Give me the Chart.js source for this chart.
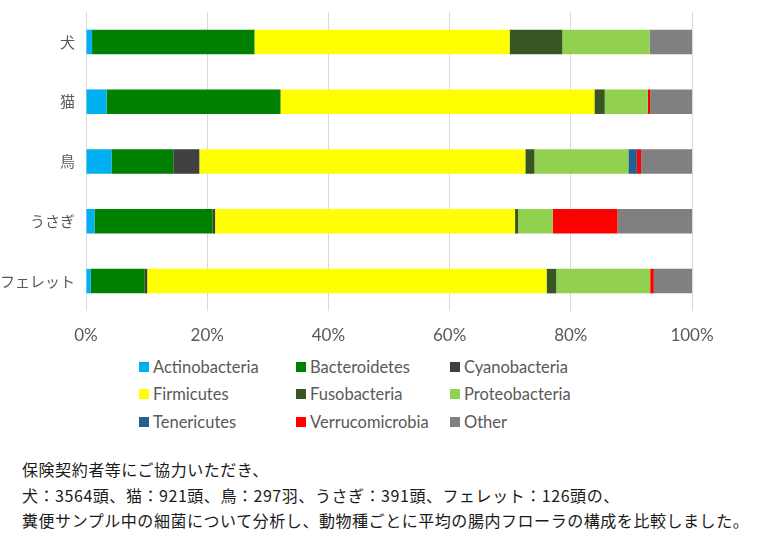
<!DOCTYPE html>
<html>
<head>
<meta charset="utf-8">
<script src="https://cdn.jsdelivr.net/npm/chart.js@4"></script>
<style>
  body { margin: 0; background: #fff; width: 760px; height: 542px; overflow: hidden; position: relative; }
  #wrap { position: absolute; left: 0; top: 0; width: 760px; height: 350px; }
  #legend { position: absolute; left: 139px; top: 353px; display: grid;
    grid-template-columns: 157px 154px auto; grid-auto-rows: 27.5px;
    font-family: Lato, "Noto Sans", sans-serif; font-size: 16.5px; color: #595959; }
  #legend div { display: flex; align-items: center; white-space: nowrap; }
  #legend span { display: inline-block; width: 10px; height: 10px; margin-right: 4px; }
  #note { position: absolute; left: 22px; top: 457px; font-family: "Noto Sans CJK JP", sans-serif;
    font-size: 16px; line-height: 25.5px; color: #1a1a1a; letter-spacing: 0.55px; }
</style>
</head>
<body>
<div id="wrap"><canvas id="chart"></canvas></div>
<div id="legend"></div>
<div id="note">保険契約者等にご協力いただき、<br>犬：3564頭、猫：921頭、鳥：297羽、うさぎ：391頭、フェレット：126頭の、<br>糞便サンプル中の細菌について分析し、動物種ごとに平均の腸内フローラの構成を比較しました。</div>
<script>
// animals
const animals = ['犬', '猫', '鳥', 'うさぎ', 'フェレット'];
const xTicks = [0, 20, 40, 60, 80, 100];

// % per phylum, order: 犬, 猫, 鳥, うさぎ, フェレット
const actinobacteria   = [1.0, 3.4, 4.2, 1.4, 0.8];
const bacteroidetes    = [26.8, 28.7, 10.2, 19.5, 8.9];
const cyanobacteria    = [0, 0, 4.3, 0.4, 0.4];
const firmicutes       = [42.1, 51.8, 53.8, 49.5, 65.9];
const fusobacteria     = [8.7, 1.7, 1.5, 0.5, 1.6];
const proteobacteria   = [14.4, 7.1, 15.5, 5.7, 15.5];
const tenericutes      = [0, 0, 1.4, 0, 0];
const verrucomicrobia  = [0, 0.4, 0.7, 10.7, 0.6];
const other            = [7.0, 6.9, 8.4, 12.3, 6.3];

const series = [
    { label: 'Actinobacteria', data: actinobacteria, color: '#00b0f0' },
    { label: 'Bacteroidetes', data: bacteroidetes, color: '#008000' },
    { label: 'Cyanobacteria', data: cyanobacteria, color: '#404040' },
    { label: 'Firmicutes', data: firmicutes, color: '#ffff00' },
    { label: 'Fusobacteria', data: fusobacteria, color: '#375623' },
    { label: 'Proteobacteria', data: proteobacteria, color: '#92d050' },
    { label: 'Tenericutes', data: tenericutes, color: '#255e91' },
    { label: 'Verrucomicrobia', data: verrucomicrobia, color: '#ff0000' },
    { label: 'Other', data: other, color: '#808080' },
];

new Chart(document.getElementById('chart'), {
    type: 'bar',
    data: {
        labels: animals,
        datasets: series.map(s => ({
            label: s.label,
            data: s.data,
            backgroundColor: s.color,
            borderWidth: 0,
            barPercentage: 0.41,
            categoryPercentage: 1,
        }))
    },
    options: {
        indexAxis: 'y',
        responsive: true,
        maintainAspectRatio: false,
        animation: false,
        layout: { padding: { top: 4, right: 68, left: 0, bottom: 0 } },
        plugins: { legend: { display: false }, tooltip: { enabled: false } },
        scales: {
            x: {
                stacked: true,
                min: 0,
                max: 100,
                afterBuildTicks: scale => { scale.ticks = xTicks.map(v => ({ value: v })); },
                ticks: {
                    callback: v => v + '%',
                    color: '#595959',
                    padding: 14,
                    font: { family: 'Lato, "Noto Sans", sans-serif', size: 17 },
                    maxRotation: 0,
                },
                grid: { color: '#d9d9d9', drawTicks: false },
                border: { display: false },
                afterFit: scale => { scale.height = 39; },
            },
            y: {
                stacked: true,
                ticks: {
                    color: '#595959',
                    padding: 3,
                    font: { family: '"Noto Sans CJK JP", sans-serif', size: 15 },
                },
                grid: { display: false },
                border: { display: false },
                afterFit: scale => { scale.width = 86; },
            }
        }
    }
});

// legend in three columns like the original
const legend = document.getElementById('legend');
series.forEach(s => {
    const item = document.createElement('div');
    item.innerHTML = '<span style="background:' + s.color + '"></span>' + s.label;
    legend.appendChild(item);
});
</script>
</body>
</html>
